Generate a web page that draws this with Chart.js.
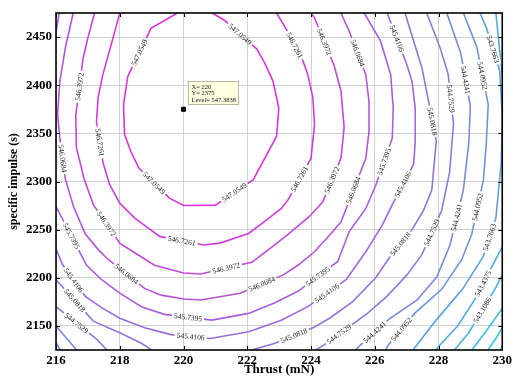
<!DOCTYPE html>
<html>
<head>
<meta charset="utf-8">
<script src="https://cdn.jsdelivr.net/npm/chart.js@4.4.0/dist/chart.umd.min.js"></script>
<style>
  html, body { margin: 0; padding: 0; background: #fff; }
  #wrap { width: 515px; height: 376px; }
</style>
</head>
<body>
<div id="wrap"><canvas id="chart"></canvas></div>
<script>
// axis ticks
const X_TICKS = [216, 218, 220, 222, 224, 226, 228, 230];
const Y_TICKS = [2150, 2200, 2250, 2300, 2350, 2400, 2450];

// datatip on the peak
const DATATIP = { x: 220, y: 2375, level: 547.3838 };

// contour lines: [thrust, impulse]
const c547_0549 = [[219.81,2475],[218.98,2459],[218.25,2409],[218.12,2380],[218.15,2349],[218.35,2331],[218.6,2314],[219.55,2283],[220.0,2275],[221.0,2275.5],[222.19,2302],[222.92,2347],[222.99,2376],[222.81,2404],[222.55,2423],[222.29,2438],[221.26,2468],[220.9,2475]];
const c546_7261 = [[218.0,2475],[217.73,2442],[217.47,2411],[217.32,2387],[217.27,2362],[217.48,2319],[217.68,2297],[218.0,2277.5],[218.47,2262],[219.25,2243],[220.64,2234],[221.15,2236],[222.04,2246],[222.6,2260],[223.07,2272],[223.28,2281],[224.0,2324],[224.11,2359],[224.06,2387],[223.9,2411],[223.75,2425],[223.23,2458],[222.92,2475]];
const c546_3972 = [[217.21,2475],[217.0,2449],[216.85,2428],[216.62,2369],[216.64,2335],[216.8,2314],[216.86,2305],[217.17,2276],[218.0,2236],[218.47,2226],[219.09,2213],[220.0,2205],[220.54,2204],[222.14,2216],[222.66,2229],[223.28,2245],[223.96,2264],[224.37,2279],[224.94,2324],[225.04,2356],[224.94,2394],[224.73,2420],[224.11,2470],[224.0,2475]];
const c546_0684 = [[216.54,2475],[216.3,2440],[216.12,2404],[216.05,2370],[216.12,2345],[216.29,2303],[216.55,2274],[216.91,2246],[217.33,2229],[217.64,2219],[218.78,2189],[219.3,2182],[220.0,2178],[220.54,2177],[221.78,2184],[223.13,2203],[223.59,2213],[224.11,2227],[224.63,2246],[224.94,2258],[225.72,2324],[225.82,2352],[225.82,2383],[225.72,2411],[225.2,2456],[224.94,2475]];
const c545_7395a = [[216.1,2475],[216.0,2455]];
const c545_7395 = [[216.0,2274],[216.96,2213],[217.43,2198],[218.0,2184],[218.68,2170],[219.4,2162],[220.89,2156],[222.04,2163],[222.87,2174],[223.59,2186],[224.84,2217],[225.2,2248],[225.72,2272],[226.03,2296],[226.55,2345],[226.58,2376],[226.5,2411],[226.18,2446],[225.67,2475]];
const c545_4106 = [[216.0,2230],[216.2,2214],[216.91,2181],[217.43,2169],[218.0,2158],[218.78,2148],[219.61,2141],[220.84,2137],[222.04,2144],[223.07,2156],[223.9,2170],[225.1,2198],[225.72,2227],[226.24,2255],[226.55,2276],[227.22,2318],[227.27,2342],[227.27,2376],[227.17,2404],[227.0,2422],[226.39,2475]];
const c545_0818a = [[216.0,2198],[217.17,2155],[218.0,2143],[218.68,2132],[219.0,2125]];
const c545_0818 = [[222.14,2125],[222.87,2132],[224.06,2148],[224.58,2158],[225.3,2175],[226.03,2200],[226.44,2220],[227.17,2250],[227.53,2270],[227.79,2291],[227.93,2342],[227.69,2383],[227.48,2418],[227.22,2446],[226.95,2475]];
const c544_7529a = [[216.0,2170],[217.28,2136],[217.6,2125]];
const c544_7529 = [[224.15,2125],[224.4,2130],[225.35,2153],[225.77,2163],[226.39,2181],[227.01,2203],[227.48,2224],[228.1,2270],[228.35,2310],[228.47,2360],[228.3,2412],[228.05,2439],[227.63,2475]];
const c544_4241a = [[216.0,2150],[216.65,2125]];
const c544_4241 = [[225.4,2125],[225.55,2130],[226.45,2157],[227.33,2177],[227.95,2201],[228.36,2234],[228.78,2291],[228.95,2340],[229.0,2378],[228.7,2433],[228.26,2475]];
const c544_0952a = [[216.0,2133],[216.13,2125]];
const c544_0952 = [[226.35,2125],[226.42,2130],[227.25,2163],[228.1,2188],[228.73,2219],[229.04,2245],[229.41,2302],[229.5,2340],[229.56,2380],[229.2,2440],[228.78,2475]];
const c543_7663 = [[227.2,2125],[227.9,2155],[228.75,2188],[229.4,2222],[229.8,2262],[229.97,2320],[230.0,2370],[229.92,2415],[229.5,2460],[229.3,2475]];
const c543_4375 = [[227.9,2125],[228.6,2150],[229.15,2178],[229.65,2210],[230.0,2232]];
const c543_4375a = [[230.0,2410],[229.8,2475]];
const c543_1086 = [[228.5,2125],[228.95,2143],[229.8,2190],[230.0,2203]];
const c542_7797 = [[229.05,2125],[229.5,2145],[230.0,2168]];
const c542_4509 = [[229.55,2125],[229.8,2137],[230.0,2148]];
const c542_1220 = [[229.95,2125],[230.0,2130]];

// level, points, segments that carry a label
const CONTOURS = [
  [547.0549, c547_0549, [1, 6, 9, 15]],
  [546.7261, c546_7261, [4, 9, 15, 20]],
  [546.3972, c546_3972, [2, 7, 12, 17, 21]],
  [546.0684, c546_0684, [4, 9, 14, 19, 23]],
  [545.7395, c545_7395a, []],
  [545.7395, c545_7395, [0, 5, 9, 13]],
  [545.4106, c545_4106, [1, 6, 10, 14, 19]],
  [545.0818, c545_0818a, [0]],
  [545.0818, c545_0818, [1, 6, 10]],
  [544.7529, c544_7529a, [0]],
  [544.7529, c544_7529, [1, 6, 9]],
  [544.4241, c544_4241a, []],
  [544.4241, c544_4241, [1, 5, 8]],
  [544.0952, c544_0952a, []],
  [544.0952, c544_0952, [1, 5, 8]],
  [543.7663, c543_7663, [3, 7]],
  [543.4375, c543_4375, [2]],
  [543.4375, c543_4375a, []],
  [543.1086, c543_1086, [1]],
  [542.7797, c542_7797, []],
  [542.4509, c542_4509, []],
  [542.1220, c542_1220, []],
];

const LMIN = 542.122, LMAX = 547.3838;
const SERIF = '"Liberation Serif", "Times New Roman", serif';
const LABEL_FONT = '7.5px ' + SERIF;

// cool colormap, a bit darker
function levelColor(v) {
  const t = (v - LMIN) / (LMAX - LMIN);
  const r = Math.round(35 + 195 * t);
  const g = Math.round(212 - 170 * t);
  const b = Math.round(222 - 4 * t);
  return `rgb(${r},${g},${b})`;
}

const datasets = CONTOURS.map(([lev, pts, segs]) => ({
  label: lev.toFixed(4),
  labelSegs: segs,
  data: pts.map(p => ({ x: p[0], y: p[1] })),
  showLine: true,
  borderColor: levelColor(lev),
  borderWidth: 1.6,
  pointRadius: 0,
  fill: false,
  tension: 0,
}));

datasets.push({
  label: 'tip',
  data: [{ x: DATATIP.x, y: DATATIP.y }],
  pointStyle: 'rect',
  pointRadius: 2.8,
  backgroundColor: '#000',
  borderColor: '#000',
  showLine: false,
});

const contourLabels = {
  id: 'contourLabels',
  beforeDatasetsDraw(chart) {
    const ctx = chart.ctx, xs = chart.scales.x, ys = chart.scales.y;
    ctx.font = LABEL_FONT;
    const labels = [];
    chart.data.datasets.forEach(ds => {
      (ds.labelSegs || []).forEach(i => {
        const a = ds.data[i], b = ds.data[i + 1];
        const x1 = xs.getPixelForValue(a.x), y1 = ys.getPixelForValue(a.y);
        const x2 = xs.getPixelForValue(b.x), y2 = ys.getPixelForValue(b.y);
        let ang = Math.atan2(y2 - y1, x2 - x1);
        if (ang > Math.PI / 2) ang -= Math.PI;
        if (ang <= -Math.PI / 2) ang += Math.PI;
        labels.push({
          cx: (x1 + x2) / 2, cy: (y1 + y2) / 2, ang,
          w: ctx.measureText(ds.label).width + 4, h: 8, text: ds.label,
        });
      });
    });
    chart.$labels = labels;

    // cut gaps in the lines where the labels sit
    const area = chart.chartArea;
    ctx.save();
    ctx.beginPath();
    ctx.rect(area.left, area.top, area.right - area.left, area.bottom - area.top);
    labels.forEach(l => {
      const c = Math.cos(l.ang), s = Math.sin(l.ang);
      [[-1, -1], [1, -1], [1, 1], [-1, 1]].forEach(([u, v], k) => {
        const du = u * l.w / 2, dv = v * l.h / 2;
        const px = l.cx + du * c - dv * s, py = l.cy + du * s + dv * c;
        if (k) ctx.lineTo(px, py); else ctx.moveTo(px, py);
      });
      ctx.closePath();
    });
    ctx.clip('evenodd');
  },
  afterDatasetsDraw(chart) {
    const ctx = chart.ctx;
    ctx.restore();
    ctx.save();
    ctx.font = LABEL_FONT;
    ctx.fillStyle = '#222';
    ctx.textAlign = 'center';
    ctx.textBaseline = 'middle';
    (chart.$labels || []).forEach(l => {
      ctx.save();
      ctx.translate(l.cx, l.cy);
      ctx.rotate(l.ang);
      ctx.fillText(l.text, 0, 0.5);
      ctx.restore();
    });
    ctx.restore();
  },
  afterDraw(chart) {
    const ctx = chart.ctx, a = chart.chartArea;
    const xs = chart.scales.x, ys = chart.scales.y;
    ctx.save();
    // box + inward ticks
    ctx.strokeStyle = '#000';
    ctx.lineWidth = 1;
    ctx.beginPath();
    X_TICKS.forEach(v => {
      const px = Math.round(xs.getPixelForValue(v)) + 0.5;
      ctx.moveTo(px, a.bottom); ctx.lineTo(px, a.bottom - 4);
      ctx.moveTo(px, a.top); ctx.lineTo(px, a.top + 4);
    });
    Y_TICKS.forEach(v => {
      const py = Math.round(ys.getPixelForValue(v)) + 0.5;
      ctx.moveTo(a.left, py); ctx.lineTo(a.left + 4, py);
      ctx.moveTo(a.right, py); ctx.lineTo(a.right - 4, py);
    });
    ctx.stroke();
    ctx.lineWidth = 1.6;
    ctx.strokeRect(a.left, a.top, a.right - a.left, a.bottom - a.top);

    // datatip
    const mx = xs.getPixelForValue(DATATIP.x), my = ys.getPixelForValue(DATATIP.y);
    const bx = Math.round(mx + 4) + 0.5, by = Math.round(my - 28) + 0.5;
    ctx.fillStyle = '#ffffe1';
    ctx.strokeStyle = '#b8b8a8';
    ctx.lineWidth = 1;
    ctx.fillRect(bx, by, 50, 23);
    ctx.strokeRect(bx, by, 50, 23);
    ctx.fillStyle = '#111';
    ctx.font = '6.5px ' + SERIF;
    ctx.textAlign = 'left';
    ctx.textBaseline = 'middle';
    ctx.fillText('X= ' + DATATIP.x, bx + 3, by + 5.5);
    ctx.fillText('Y= ' + DATATIP.y, bx + 3, by + 12);
    ctx.fillText('Level= ' + DATATIP.level.toFixed(4), bx + 3, by + 18.5);
    ctx.restore();
  },
};

const tickFont = { family: SERIF, size: 13, weight: 'bold' };

new Chart(document.getElementById('chart'), {
  type: 'scatter',
  data: { datasets },
  plugins: [contourLabels],
  options: {
    responsive: true,
    maintainAspectRatio: false,
    animation: false,
    devicePixelRatio: 1,
    layout: { padding: { top: 13, right: 9, left: 0, bottom: 0 } },
    plugins: { legend: { display: false }, tooltip: { enabled: false } },
    scales: {
      x: {
        type: 'linear', min: 216, max: 230,
        afterBuildTicks: s => { s.ticks = X_TICKS.map(v => ({ value: v })); },
        afterFit: s => { s.height = 26; },
        ticks: { font: tickFont, color: '#000', padding: 3, maxRotation: 0, callback: v => String(v) },
        grid: { color: '#d2d2d2', drawTicks: false },
        border: { display: false },
        title: {
          display: true, text: 'Thrust (mN)', color: '#000',
          font: { family: SERIF, size: 13, weight: 'bold', lineHeight: 1 },
          padding: { top: 0, bottom: 0 },
        },
      },
      y: {
        type: 'linear', min: 2125, max: 2475,
        afterBuildTicks: s => { s.ticks = Y_TICKS.map(v => ({ value: v })); },
        afterFit: s => { s.width = 56; },
        ticks: { font: tickFont, color: '#000', padding: 4, callback: v => String(v) },
        grid: { color: '#d2d2d2', drawTicks: false },
        border: { display: false },
        title: {
          display: true, text: 'specific impulse (s)', color: '#000',
          font: { family: SERIF, size: 12, weight: 'bold', lineHeight: 1 },
          padding: { top: 8, bottom: 0 },
        },
      },
    },
  },
});
</script>
</body>
</html>
